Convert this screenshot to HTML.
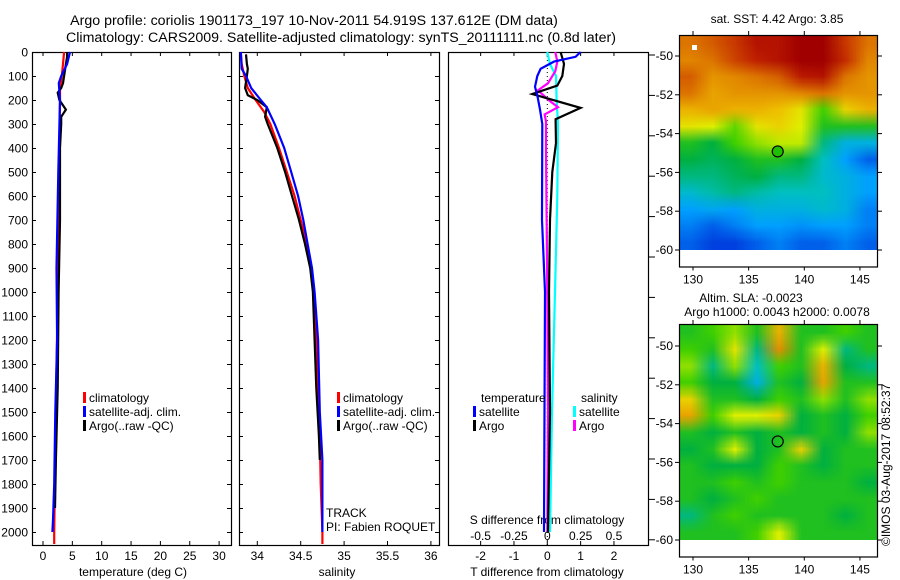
<!DOCTYPE html>
<html><head><meta charset="utf-8">
<style>
html,body{margin:0;padding:0;background:#fff;}
svg{display:block;font-family:"Liberation Sans",sans-serif;}
text{fill:#000;}
</style></head>
<body>
<svg id="s" width="900" height="580" xmlns="http://www.w3.org/2000/svg">
<text x="314" y="25" font-size="14.2" text-anchor="middle">Argo profile: coriolis 1901173_197 10-Nov-2011 54.919S 137.612E (DM data)</text>
<text x="341" y="42" font-size="14.2" text-anchor="middle">Climatology: CARS2009. Satellite-adjusted climatology: synTS_20111111.nc (0.8d later)</text>
<g id="g"></g>
</svg>
<script>
// ---- data ----
const tDepth   = [0,50,100,150,200,300,500,1000,1500,2000,2050];
const tClim    = [3.6,3.4,3.2,2.9,2.9,2.85,2.7,2.5,2.2,1.9,1.9];
const tArgoDepth=[0,20,50,100,130,150,170,200,240,270,300,400,700,1000,1400,1700,1900];
const tArgo    = [4.1,4.1,3.9,3.6,3.4,3.1,2.5,2.8,3.9,3.1,3.1,2.9,2.9,2.65,2.5,2.2,2.05];
const tSatDepth= [0,50,100,130,200,500,900,1200,1500,1800,1950,2000];
const tSat     = [4.6,4.1,3.1,2.7,2.9,2.6,2.3,2.4,2.1,1.9,1.7,1.6];
const sDepth   = [0,50,100,150,200,250,300,400,500,600,700,800,900,1000,1200,1400,1600,1800,2000,2050];
const sClim    = [33.81,33.82,33.85,33.89,33.98,34.08,34.15,34.25,34.34,34.43,34.50,34.57,34.62,34.65,34.68,34.70,34.72,34.73,34.75,34.75];
const sSatDepth= [0,70,100,150,200,230,300,400,500,600,700,800,900,1000,1200,1500,1700,2000];
const sSat     = [33.81,33.82,33.87,33.93,34.04,34.11,34.20,34.31,34.39,34.47,34.53,34.58,34.63,34.66,34.70,34.72,34.75,34.75];
const sArgoDepth=[10,50,70,100,150,180,200,230,270,300,400,500,600,700,800,900,1000,1200,1400,1600,1700];
const sArgo    = [33.87,33.88,33.89,33.88,33.86,33.89,34.0,34.11,34.09,34.12,34.23,34.32,34.40,34.48,34.55,34.61,34.64,34.66,34.68,34.71,34.72];
const dtSatDepth=[0,20,40,70,100,145,180,240,300,700,1000,2000];
const dtSat    = [1.0,0.85,0.2,-0.2,-0.3,-0.37,-0.3,-0.22,-0.15,-0.16,-0.07,-0.1];
const dtArgoDepth=[0,50,100,140,175,233,280,380,500,700,1000,1500,2000];
const dtArgo   = [0.4,0.5,0.45,0.3,-0.45,1.0,0.25,0.26,0.15,0.08,0.05,0.08,0.02];
const dsSatDepth=[0,50,100,200,300,600,1000,1500,2000];
const dsSat    = [0,0.02,0.065,0.07,0.08,0.075,0.058,0.035,0.02];
const dsArgoDepth=[0,40,80,130,160,200,230,260,290,400,1000,1500,2000];
const dsArgo   = [0.06,0.075,0.06,0.005,-0.07,0.01,0.08,-0.02,-0.01,-0.01,0,0.005,0];
const depthTicks=[0,100,200,300,400,500,600,700,800,900,1000,1100,1200,1300,1400,1500,1600,1700,1800,1900,2000];
const tTicks=[0,5,10,15,20,25,30];
const sTicks=[34,34.5,35,35.5,36];
const dtTicks=[-2,-1,0,1,2];
const dsTicks=[-0.5,-0.25,0,0.25,0.5];
const dsTickLabels=["-0.5","-0.25","0","0.25","0.5"];
const latTicks=[-50,-52,-54,-56,-58,-60];
const lonTicks=[130,135,140,145];
const sstGrid=[
[.88,.9,.93,.97,.97,1,1,.93,.88],
[.86,.88,.92,.95,.97,1,1,.94,.86],
[.9,.84,.86,.88,.9,.96,.97,.88,.84],
[.88,.82,.84,.84,.84,.86,.88,.84,.84],
[.8,.82,.8,.8,.78,.72,.6,.75,.8],
[.72,.7,.62,.72,.75,.7,.55,.55,.55],
[.55,.5,.6,.65,.68,.68,.45,.35,.35],
[.5,.48,.5,.55,.55,.5,.4,.3,.2],
[.45,.45,.48,.5,.45,.45,.38,.35,.3],
[.38,.42,.45,.42,.4,.4,.4,.35,.3],
[.3,.32,.3,.35,.35,.35,.38,.35,.25],
[.25,.2,.25,.3,.3,.28,.3,.3,.25],
[.2,.15,.15,.2,.25,.2,.2,.25,.2]];
const slaGrid=[
[.55,.6,.65,.55,.8,.55,.55,.6,.55],
[.6,.55,.72,.45,.85,.55,.7,.45,.55],
[.65,.45,.65,.4,.6,.55,.8,.5,.45],
[.6,.5,.5,.35,.55,.5,.82,.55,.55],
[.75,.55,.55,.5,.6,.55,.65,.55,.65],
[.82,.6,.7,.7,.75,.5,.55,.5,.6],
[.55,.5,.55,.5,.55,.5,.55,.5,.65],
[.5,.55,.7,.5,.55,.75,.5,.55,.55],
[.55,.5,.5,.5,.6,.55,.5,.55,.55],
[.55,.55,.6,.55,.6,.55,.55,.55,.5],
[.55,.5,.55,.6,.55,.55,.55,.55,.55],
[.45,.55,.6,.55,.55,.55,.55,.5,.55],
[.55,.55,.55,.6,.7,.55,.55,.55,.55]];
const argoLon=137.612, argoLat=-54.919;

// ---- scales ----
const yD=d=>52+d*0.24;
const xT=t=>43+t*5.87;
const xS=s=>257.3+(s-34)*86.8;
const xDT=t=>547.3+t*33.33;
const xDS=s=>547.3+s*133.3;
const xLon=l=>693+(l-130)*11.13;
const yLat1=l=>56+(-50-l)*19.4;
const yLat2=l=>346+(-50-l)*19.4;

const NS="http://www.w3.org/2000/svg";
const G=document.getElementById('g');
function mk(tag,attrs,parent){const e=document.createElementNS(NS,tag);for(const k in attrs)e.setAttribute(k,attrs[k]);(parent||G).appendChild(e);return e;}
function txt(x,y,s,anchor,size,name){const e=mk('text',{x:x,y:y,'font-size':size||12,'text-anchor':anchor||'start'});e.textContent=s;


return e;}
function line(x1,y1,x2,y2,name){const e=mk('line',{x1:x1,y1:y1,x2:x2,y2:y2,stroke:'#000','stroke-width':1});


return e;}
function series(xs,ds,xf,color,name){const pts=xs.map((v,i)=>xf(v).toFixed(1)+','+yD(ds[i]).toFixed(1)).join(' ');
const e=mk('polyline',{points:pts,fill:'none',stroke:color,'stroke-width':2.2});


return e;}

// ---- panels ----
const panels=[[32,231],[239,439],[448,648]];
panels.forEach((p,i)=>{
  const r=mk('rect',{x:p[0]+.5,y:52.5,width:p[1]-p[0],height:493,fill:'none',stroke:'#000','stroke-width':1.2});
  
  
});
depthTicks.forEach(d=>{
  const y=yD(d)+.5;
  txt(28,y+4,String(d),'end',12,'depth-tick-label');
  [0,1].forEach(i=>{const p=panels[i];line(p[0],y,p[0]+4,y,'depth-tick');line(p[1]-4,y,p[1],y,'depth-tick');});
});
for(let k=0;k<13;k++){const y=55+k*40.4;line(648,y,655,y,'right-tick');}
tTicks.forEach(t=>{const x=xT(t);line(x,52,x,56,'temp-tick');line(x,541,x,545,'temp-tick');txt(x,560,String(t),'middle',12,'temp-tick-label');});
sTicks.forEach(s=>{const x=xS(s);line(x,52,x,56,'sal-tick');line(x,541,x,545,'sal-tick');txt(x,560,String(s),'middle',12,'sal-tick-label');});
dtTicks.forEach(t=>{const x=xDT(t);line(x,52,x,56,'dt-tick');line(x,541,x,545,'dt-tick');txt(x,560,String(t),'middle',12,'dt-tick-label');});
dsTicks.forEach((s,i)=>txt(xDS(s),540,dsTickLabels[i],'middle',12,'ds-tick-label'));
txt(133,576,'temperature (deg C)','middle',12,'x-axis-title-temperature');
txt(337,576,'salinity','middle',12,'x-axis-title-salinity');
txt(547,576,'T difference from climatology','middle',12,'x-axis-title-t-diff');
txt(547,524,'S difference from climatology','middle',12,'x-axis-title-s-diff');
const z=mk('line',{x1:xDT(0),y1:52,x2:xDT(0),y2:545,stroke:'#000','stroke-dasharray':'1,3','stroke-width':1});



series(tClim,tDepth,xT,'#ff0000','temp-climatology-line');
series(tArgo,tArgoDepth,xT,'#000000','temp-argo-line');
series(tSat,tSatDepth,xT,'#0000ff','temp-satellite-line');
series(sClim,sDepth,xS,'#ff0000','sal-climatology-line');
series(sArgo,sArgoDepth,xS,'#000000','sal-argo-line');
series(sSat,sSatDepth,xS,'#0000ff','sal-satellite-line');
series(dsSat,dsSatDepth,xDS,'#00ffff','s-diff-satellite-line');
series(dsArgo,dsArgoDepth,xDS,'#ff00ff','s-diff-argo-line');
series(dtArgo,dtArgoDepth,xDT,'#000000','t-diff-argo-line');
series(dtSat,dtSatDepth,xDT,'#0000ff','t-diff-satellite-line');

function legItem(x,y,color,label,name){const r=mk('rect',{x:x,y:y-6,width:3,height:11,fill:color});


txt(x+6,y+4,label,'start',12,name);}
[83,337].forEach(x=>{
  legItem(x,398,'#ff0000','climatology','legend-climatology');
  legItem(x,412,'#0000ff','satellite-adj. clim.','legend-satellite-adj');
  legItem(x,426,'#000000','Argo(..raw -QC)','legend-argo');
});
txt(481,402,'temperature','start',12,'legend-temperature-header');
txt(581,402,'salinity','start',12,'legend-salinity-header');
legItem(473,412,'#0000ff','satellite','legend-t-satellite');
legItem(473,426,'#000000','Argo','legend-t-argo');
legItem(573,412,'#00ffff','satellite','legend-s-satellite');
legItem(573,426,'#ff00ff','Argo','legend-s-argo');
txt(326,517,'TRACK','start',12,'track-label');
txt(326,531,'PI: Fabien ROQUET','start',12,'pi-label');

// ---- maps ----
const stops=[[0,[0,0,128]],[.15,[0,64,224]],[.3,[0,160,255]],[.4,[0,192,192]],[.5,[0,176,64]],[.6,[64,208,0]],[.7,[224,240,0]],[.78,[240,192,0]],[.87,[224,128,0]],[.95,[192,32,0]],[1,[160,0,0]]];
function cmap(v){for(let i=1;i<stops.length;i++){if(v<=stops[i][0]){const a=stops[i-1],b=stops[i];const f=(v-a[0])/(b[0]-a[0]);return a[1].map((c,j)=>Math.round(c+(b[1][j]-c)*f));}}return stops[stops.length-1][1];}
function mapImg(grid,h){const c=document.createElement('canvas');c.width=9;c.height=13;const ctx=c.getContext('2d');const im=ctx.createImageData(9,13);
grid.forEach((row,r)=>row.forEach((v,k)=>{const col=cmap(v);const o=(r*9+k)*4;im.data[o]=col[0];im.data[o+1]=col[1];im.data[o+2]=col[2];im.data[o+3]=255;}));
ctx.putImageData(im,0,0);
const big=document.createElement('canvas');big.width=199;big.height=Math.round(h);const b=big.getContext('2d');b.imageSmoothingEnabled=true;b.drawImage(c,0,0,199,Math.round(h));return big;}
function drawMap(grid,top,yLat,name,filled){
  const h=yLat(-60)-top;
  const fo=mk('foreignObject',{x:679,y:top,width:199,height:h});
  
  
  const cv=mapImg(grid,h);cv.style.width='199px';cv.style.height=h+'px';cv.style.display='block';
  fo.appendChild(cv);
  const bottom=yLat(-60.85);
  const fr=mk('rect',{x:679.5,y:top+.5,width:198,height:bottom-top,fill:'none',stroke:'#000','stroke-width':1.2});
  
  
  latTicks.forEach(l=>{const y=yLat(l);line(675,y,679,y,'lat-tick');line(878,y,882,y,'lat-tick');txt(673,y+4,String(l),'end',12,'lat-tick-label');});
  lonTicks.forEach(l=>{const x=xLon(l);line(x,top-4,x,top,'lon-tick');line(x,bottom,x,bottom+4,'lon-tick');txt(x,bottom+17,String(l),'middle',12,'lon-tick-label');});
  const c=mk('circle',{cx:xLon(argoLon),cy:yLat(argoLat),r:5.5,fill:filled?'#20c000':'none',stroke:'#000','stroke-width':1.2});
  
  
}
drawMap(sstGrid,35,yLat1,'sst-map',true);
drawMap(slaGrid,324,yLat2,'sla-map',false);
const w=mk('rect',{x:692,y:45,width:5,height:5,fill:'#fff'});


txt(777,23,'sat. SST: 4.42 Argo: 3.85','middle',12,'sst-map-title');
txt(751,302,'Altim. SLA: -0.0023','middle',12,'sla-map-title');
txt(777,316,'Argo h1000: 0.0043 h2000: 0.0078','middle',12,'sla-map-subtitle');
const v=txt(0,0,'©IMOS 03-Aug-2017 08:52:37','start',12,'copyright-timestamp');
v.setAttribute('transform','translate(890,546) rotate(-90)');
</script>
</body></html>
